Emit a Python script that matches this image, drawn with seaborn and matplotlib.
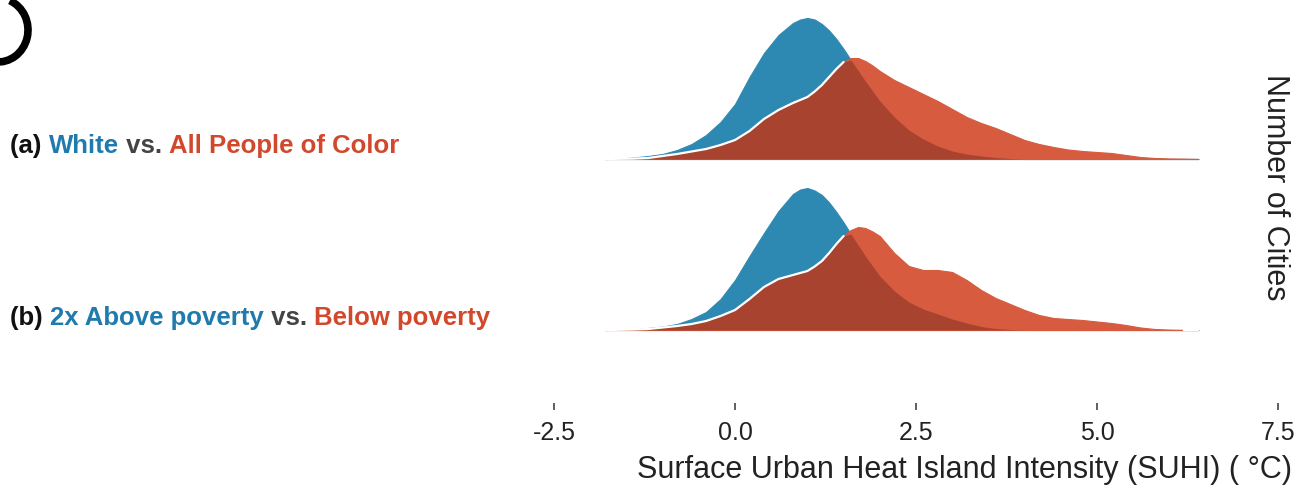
import numpy as np
import matplotlib
matplotlib.use("Agg")
import matplotlib.pyplot as plt
from matplotlib.patches import Arc
from matplotlib.transforms import IdentityTransform
import seaborn as sns

# SUHI grid (°C) and curve heights (number of cities, arbitrary scale)
suhi = [-1.8, -1.6, -1.4, -1.2, -1.0, -0.8, -0.6, -0.4, -0.2, 0.0,
        0.2, 0.4, 0.6, 0.8,
        0.9, 1.0, 1.1, 1.2, 1.3, 1.4, 1.5, 1.6, 1.7, 1.8, 1.9,
        2.0, 2.2, 2.4, 2.6, 2.8, 3.0, 3.2, 3.4, 3.6, 3.8, 4.0,
        4.2, 4.4, 4.6, 4.8, 5.0, 5.2, 5.4, 5.6, 5.8, 6.0, 6.2, 6.4]

white = [0, 0.5, 1.5, 3, 5, 9, 15, 24, 37, 55,
         82, 106, 124, 136,
         139.5, 141, 139.5, 135, 128.5, 120, 110, 99, 88.5, 78, 68,
         58, 42, 29, 20, 13, 8, 5, 3, 1.5, 0.5, 0,
         0, 0, 0, 0, 0, 0, 0, 0, 0, 0, 0, 0]
people_of_color = [0, 0.2, 0.4, 1, 3, 5, 7.5, 10, 14, 19,
                   28, 40, 49, 56,
                   59, 62, 67.5, 74, 82, 90, 97, 101, 101, 98, 93.5,
                   88, 79, 72, 65, 58, 50, 42, 36, 31, 25, 19,
                   15, 12, 9.5, 8, 7, 6, 4, 2, 1, 0.5, 0.3, 0]

above_poverty = [0, 0.2, 0.7, 2, 3.5, 6, 11, 18, 31, 50,
                 74, 97, 119, 136,
                 140.5, 142, 139.5, 135, 127.5, 118, 107.5, 96, 85, 74, 64,
                 54, 39, 28, 21, 16, 11, 7, 3.5, 1.5, 0.5, 0,
                 0, 0, 0, 0, 0, 0, 0, 0, 0, 0, 0, 0]
below_poverty = [0, 0.2, 0.5, 1, 2.5, 4, 6, 9, 14, 20,
                 31, 43, 51, 55,
                 57, 59, 63.5, 69, 77, 86, 94, 100, 103, 102, 98.5,
                 94, 77, 64, 60, 60, 58, 50, 40, 32, 26, 20,
                 15, 12, 11, 10, 8.5, 7, 5, 2.5, 1, 0.3, 0, 0]

xticks = [-2.5, 0.0, 2.5, 5.0, 7.5]

BLUE = "#2E89B2"
RED = "#D65B3F"
DARK = "#A8432F"

sns.set_theme(style="white")
plt.rcParams["font.family"] = ["Liberation Sans", "DejaVu Sans"]

fig = plt.figure(figsize=(13.09, 4.95), dpi=100)
ax = fig.add_axes([546.8 / 1309, 92 / 495, 738.4 / 1309, 403 / 495])

x = np.array(suhi)
rows = [
    (244, np.array(white), np.array(people_of_color)),
    (73, np.array(above_poverty), np.array(below_poverty)),
]
for base, b, r in rows:
    ax.fill_between(x, base, base + b, color=BLUE, lw=0.8, ec=BLUE, zorder=2)
    ax.fill_between(x, base, base + r, color=RED, lw=0.8, ec=RED, zorder=3)
    ax.fill_between(x, base, base + np.minimum(b, r), color=DARK, lw=0, zorder=4)
    edge = np.where(r <= b, base + r, np.nan)
    ax.plot(x, edge, color="white", lw=1.6, zorder=5)

ax.set_xlim(-2.6, 7.6)
ax.set_ylim(0, 403)
ax.set_xticks(xticks)
ax.set_xticklabels([f"{t:.1f}" for t in xticks], fontsize=18, color="#222222")
ax.set_yticks([])
for s in ax.spines.values():
    s.set_visible(False)
ax.tick_params(axis="x", bottom=True, length=5, width=1.2, color="#444444", pad=8)
ax.set_xlabel("Surface Urban Heat Island Intensity (SUHI) ( °C)", fontsize=22, color="#222222")
ax.xaxis.set_label_coords(0.566, -0.13)

fig.text(1275 / 1309, 1 - 187 / 495, "Number of Cities", rotation=270,
         ha="center", va="center", fontsize=22, color="#222222")

# row labels, pieces chained left to right
labels = [
    (1 - 146 / 495, [("(a) ", "#111111"), ("White", "#1F7AAD"), (" vs. ", "#444444"),
                     ("All People of Color", "#D2482D")]),
    (1 - 318 / 495, [("(b) ", "#111111"), ("2x Above poverty", "#1F7AAD"), (" vs. ", "#444444"),
                     ("Below poverty", "#D2482D")]),
]
for yy, parts in labels:
    prev = fig.text(10 / 1309, yy, parts[0][0], color=parts[0][1], fontsize=18.5,
                    fontweight="bold", va="center")
    for txt, col in parts[1:]:
        prev = ax.annotate(txt, xy=(1, 0), xycoords=prev, va="bottom", color=col,
                           fontsize=18.5, fontweight="bold", annotation_clip=False)

# black stroke in the top-left corner
fig.add_artist(Arc((-2, 465), 60, 64, theta1=-95, theta2=68, lw=5.5,
                   color="black", transform=IdentityTransform()))

fig.savefig("out.png", dpi=100, facecolor="white")
